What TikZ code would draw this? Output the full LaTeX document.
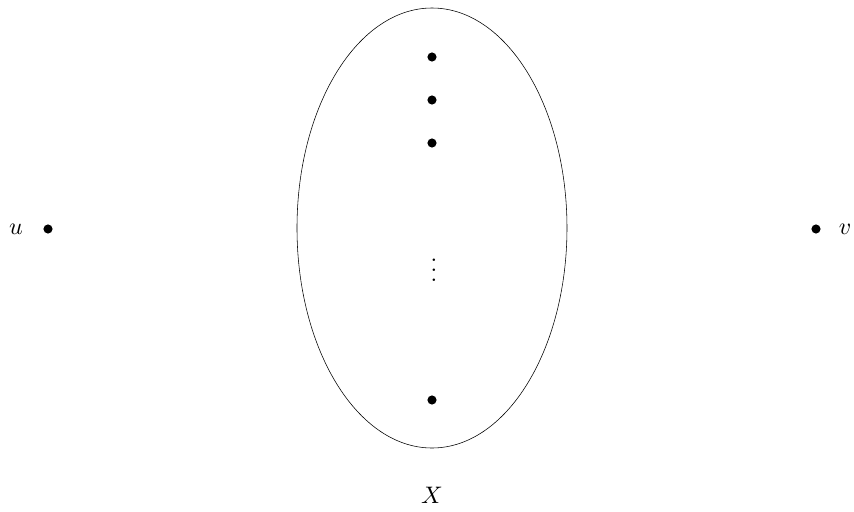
\documentclass[tikz,border=0pt]{standalone}
\usetikzlibrary{positioning}
\tikzset{
  vertex/.style={circle,fill,inner sep=0pt,minimum size=6.5pt},
  lbl/.style={scale=1.7}
}
\begin{document}
\begin{tikzpicture}
  \useasboundingbox (-10.8,-7.075) rectangle (10.55,5.7);
  \draw (0,0) ellipse (3.375cm and 5.5cm);
  \foreach \n/\y in {a/4.275,b/3.2,c/2.125,d/-4.3} {\node[vertex] (x\n) at (0,\y) {};}
  \node[lbl] (dots) at (0.05,-0.875) {$\vdots$};
  \node[vertex] (u) at (-9.6,-0.025) {};
  \node[vertex] (v) at (9.6,-0.025) {};
  \node[lbl,left=0.3cm of u] (ulabel) {$u$};
  \node[lbl,right=0.24cm of v] (vlabel) {$v$};
  \node[lbl] (X) at (0,-6.675) {$X$};
\end{tikzpicture}
\end{document}
